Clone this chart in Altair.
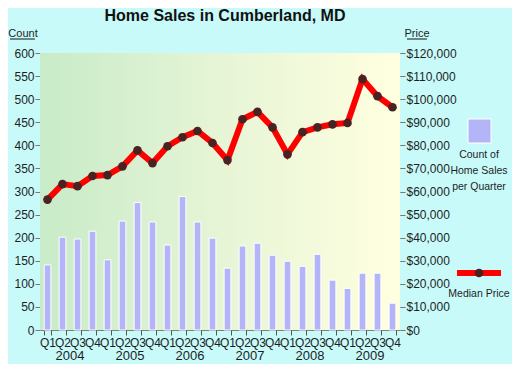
import altair as alt
import pandas as pd

years = ["2004", "2005", "2006", "2007", "2008", "2009"]
quarters = ["Q1", "Q2", "Q3", "Q4"]
keys = [f"{y}-{q}" for y in years for q in quarters]

counts = [141, 201, 197, 214, 152, 236, 276, 234, 184, 289, 234, 199,
          134, 182, 188, 162, 149, 138, 164, 108, 90, 123, 123, 58]
prices = [56500, 63200, 62300, 66700, 67100, 70900, 77800, 72300, 79600, 83500, 86200, 81000,
          73600, 91300, 94500, 87800, 76100, 85700, 87800, 89100, 89700, 108700, 101300, 96500]

count_ticks = list(range(0, 601, 50))
price_ticks = list(range(0, 120001, 10000))

W, H = 360, 277
FONT = "Liberation Sans"
TXT = "#1e1e1e"

df = pd.DataFrame({"key": keys, "count": counts, "price": prices})
years_df = pd.DataFrame({"year": years, "key": [f"{y}-Q2" for y in years]})
one = pd.DataFrame({"a": [0]})

xscale = alt.Scale(domain=keys, paddingInner=0.55, paddingOuter=0.275)

bg = alt.Chart(one).mark_rect(
    color=alt.Gradient(
        gradient="linear",
        stops=[alt.GradientStop(color="#C8EBC8", offset=0),
               alt.GradientStop(color="#E6F5D6", offset=0.5),
               alt.GradientStop(color="#FFFFE0", offset=1)],
        x1=0, x2=1, y1=0, y2=0)
).encode(x=alt.value(0), x2=alt.value(W), y=alt.value(0), y2=alt.value(H))

bars = alt.Chart(df).mark_bar(color="#B4B4F8", stroke="white", strokeWidth=1).encode(
    x=alt.X("key:O", scale=xscale, title=None,
            axis=alt.Axis(labelExpr="split(datum.value, '-')[1]", tickBand="extent",
                          labelAngle=0, labelOverlap=False, tickSize=5, tickColor="#555",
                          domain=False, labelFont=FONT, labelFontSize=12, labelColor=TXT,
                          labelPadding=2)),
    y=alt.Y("count:Q", scale=alt.Scale(domain=[0, 600], nice=False), title=None,
            axis=alt.Axis(orient="left", values=count_ticks, tickSize=5, tickColor="#777",
                          grid=True, gridColor="#808080", gridOpacity=1, domain=False,
                          labelFont=FONT, labelFontSize=12, labelColor=TXT, labelPadding=1)),
)

price_y = alt.Y("price:Q", scale=alt.Scale(domain=[0, 120000], nice=False), title=None,
                axis=alt.Axis(orient="right", values=price_ticks, format="$,.0f", tickSize=5,
                              tickColor="#777", grid=False, domain=False, labelFont=FONT,
                              labelFontSize=12, labelColor=TXT, labelPadding=1))
line = alt.Chart(df).mark_line(color="#FF0000", strokeWidth=6).encode(
    x=alt.X("key:O", scale=xscale), y=price_y)
pts = alt.Chart(df).mark_circle(color="#4A2222", opacity=1, size=75).encode(
    x=alt.X("key:O", scale=xscale), y=price_y)
price_layer = alt.layer(line, pts)

year_text = alt.Chart(years_df).mark_text(
    font=FONT, fontSize=13, color=TXT, dx=7.5, baseline="alphabetic"
).encode(x=alt.X("key:O", scale=xscale), y=alt.value(H + 30), text="year:N")

title = alt.Chart(one).mark_text(
    text="Home Sales in Cumberland, MD", font=FONT, fontSize=16, fontWeight="bold",
    color="#111", baseline="alphabetic"
).encode(x=alt.value(185), y=alt.value(-32))

count_lbl = alt.Chart(one).mark_text(text="Count", font=FONT, fontSize=11, color=TXT,
                                     baseline="alphabetic").encode(
    x=alt.value(-17), y=alt.value(-16))
count_ul = alt.Chart(one).mark_rule(color="#111").encode(
    x=alt.value(-30), x2=alt.value(-5), y=alt.value(-14))
price_lbl = alt.Chart(one).mark_text(text="Price", font=FONT, fontSize=11, color=TXT,
                                     baseline="alphabetic").encode(
    x=alt.value(377), y=alt.value(-16))
price_ul = alt.Chart(one).mark_rule(color="#111").encode(
    x=alt.value(367), x2=alt.value(387), y=alt.value(-14))

LX = 439
LFS = 10.5
leg_sq = alt.Chart(one).mark_rect(color="#B4B4F8", stroke="white", strokeWidth=1).encode(
    x=alt.value(LX - 11), x2=alt.value(LX + 12), y=alt.value(66), y2=alt.value(90))
leg_txt = alt.Chart(one).mark_text(
    text=["Count of", "Home Sales", "per Quarter"], lineHeight=16,
    font=FONT, fontSize=LFS, color=TXT, baseline="alphabetic").encode(
    x=alt.value(LX), y=alt.value(105))
leg_line = alt.Chart(one).mark_rule(color="#FF0000", strokeWidth=6).encode(
    x=alt.value(LX - 22), x2=alt.value(LX + 22), y=alt.value(220))
leg_dot = alt.Chart(one).mark_circle(color="#4A2222", opacity=1, size=75).encode(
    x=alt.value(LX), y=alt.value(220))
leg_txt2 = alt.Chart(one).mark_text(text="Median Price", font=FONT, fontSize=LFS, color=TXT,
                                    baseline="alphabetic").encode(
    x=alt.value(LX), y=alt.value(244))

chart = alt.layer(
    bg, bars, price_layer, year_text, title, count_lbl, count_ul, price_lbl, price_ul,
    leg_sq, leg_txt, leg_line, leg_dot, leg_txt2
).resolve_scale(y="independent").properties(
    width=W, height=H,
    autosize=alt.AutoSizeParams(type="none"),
    padding={"left": 32, "top": 45, "right": 112, "bottom": 34},
    background="#C8FAFA",
).configure_view(stroke=None)

chart.save("out.html", embed_options={"renderer": "svg", "actions": False})
